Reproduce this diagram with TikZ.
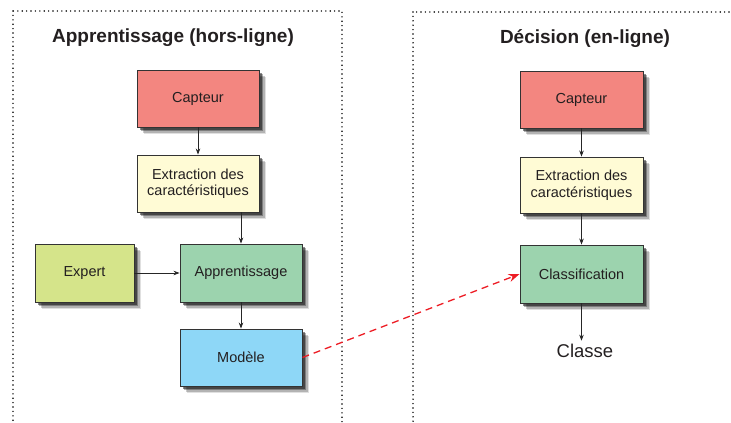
\documentclass[tikz,border=0pt]{standalone}
\usepackage{fontspec}
\setmainfont{Liberation Sans}
\usepackage{xcolor}
\usetikzlibrary{arrows.meta,shadows}

\definecolor{txtgray}{HTML}{231F20}
\definecolor{capred}{HTML}{F38680}
\definecolor{extyellow}{HTML}{FFFBD5}
\definecolor{expgreen}{HTML}{D5E48A}
\definecolor{appgreen}{HTML}{9CD3AE}
\definecolor{modblue}{HTML}{8ED7F7}
\definecolor{linkred}{HTML}{ED1C24}

\begin{document}
\begin{tikzpicture}[x=1pt,y=-1pt,
	blk/.style={draw=black!80,line width=0.9pt,minimum width=122pt,minimum height=57pt,
		align=center,text=txtgray,font=\fontsize{14.5}{16.5}\selectfont,inner sep=0pt,
		drop shadow={shadow xshift=7pt,shadow yshift=-7pt,opacity=0.12,fill=black},
		drop shadow={shadow xshift=5.5pt,shadow yshift=-5.5pt,opacity=0.2,fill=black},
		drop shadow={shadow xshift=4pt,shadow yshift=-4pt,opacity=0.3,fill=black},
		drop shadow={shadow xshift=2.5pt,shadow yshift=-2.5pt,opacity=0.45,fill=black}},
	zone/.style={line width=1.6pt,dash pattern=on 0pt off 4.4pt,line cap=round,draw=black},
	ttl/.style={text=txtgray,font=\fontsize{19}{22}\selectfont\bfseries},
	lnk/.style={-{Stealth[length=6pt,width=4.5pt]},line width=0.7pt,draw=black!85}]
	\clip (0,0) rectangle (731,423);
	%
	%  ZONES
	%
	\draw[zone] (13,11) rectangle (342,450);
	\draw[zone] (413,12) rectangle (760,450);
	\node[ttl] (t1) at (173,38) {Apprentissage (hors-ligne)};
	\node[ttl] (t2) at (585,39) {Décision (en-ligne)};
	%
	%  BOXES LEFT
	%
	\node[blk,fill=capred] (capL) at (198,98.5) {Capteur};
	\node[blk,fill=extyellow] (extL) at (198,183.5) {Extraction des\\caractéristiques};
	\node[blk,fill=appgreen,minimum height=58pt] (app) at (241,273) {Apprentissage};
	\node[blk,fill=expgreen,minimum width=99pt,minimum height=58pt] (exp) at (84.5,273) {Expert};
	\node[blk,fill=modblue] (mod) at (241,357.5) {Modèle};
	%
	%  BOXES RIGHT
	%
	\node[blk,fill=capred,minimum width=123pt] (capR) at (581.5,99.5) {Capteur};
	\node[blk,fill=extyellow,minimum width=123pt,minimum height=56pt] (extR) at (581.5,185) {Extraction des\\caractéristiques};
	\node[blk,fill=appgreen,minimum width=123pt,minimum height=58pt] (cls) at (581.5,274) {Classification};
	\node[text=txtgray,font=\fontsize{18.5}{22}\selectfont] (classe) at (585,351) {Classe};
	%
	%  ARROWS
	%
	\draw[lnk] (capL) -- (extL);
	\draw[lnk] (extL.south -| app.north) -- (app.north);
	\draw[lnk] (exp) -- (app);
	\draw[lnk] (app) -- (mod);
	\draw[lnk] (capR) -- (extR);
	\draw[lnk] (extR) -- (cls);
	\draw[lnk] (cls.south) -- (cls.south |- classe.north);
	\draw[-{Stealth[length=11pt,width=8pt]},linkred,line width=1.3pt,dash pattern=on 7pt off 5pt]
	(mod.east) -- (cls.west);
\end{tikzpicture}
\end{document}
